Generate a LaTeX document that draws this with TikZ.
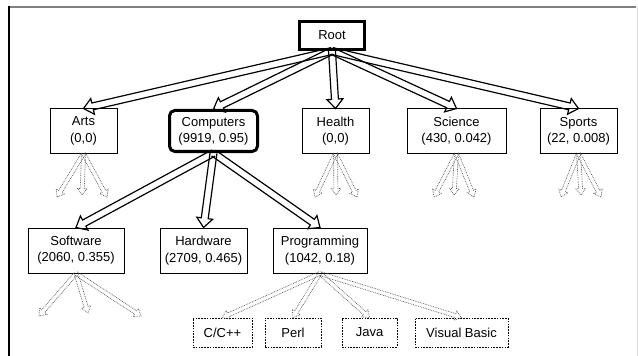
\documentclass[tikz,border=0pt]{standalone}
\usepackage{fontspec}
\setmainfont{Liberation Sans}
\usetikzlibrary{calc}
\newcommand{\lab}{\fontsize{9.75}{12.2}\selectfont}
% hollow arrow: #1 style, #2 start, #3 end, #4 half shaft, #5 half head, #6 head length
\newcommand{\harr}[6]{%
  \coordinate (hb) at ($(#3)!#6!(#2)$);
  \draw[#1] ($(#2)!#4!90:(#3)$) -- ($(hb)!#4!-90:(#2)$) -- ($(hb)!#5!-90:(#2)$)
    -- (#3) -- ($(hb)!#5!90:(#2)$) -- ($(hb)!#4!90:(#2)$) -- ($(#2)!#4!-90:(#3)$);
}
\newcommand{\mainarrow}[2]{\harr{mainarr}{#1}{#2}{2.6pt}{6pt}{7pt}}
\newcommand{\dotarrow}[2]{\harr{dotarr}{#1}{#2}{1.5pt}{3.6pt}{4.8pt}}
\tikzset{
  box/.style={draw, fill=white, line width=0.75pt, align=center, inner sep=0pt, font=\lab},
  bold/.style={box, line width=2.25pt},
  dbox/.style={box, dash pattern=on 1.2pt off 0.9pt, line width=0.7pt},
  mainarr/.style={line width=0.9pt, line join=miter},
  dotarr/.style={line width=0.5pt, dash pattern=on 0.6pt off 0.7pt, color=black!65},
}
\begin{document}
\begin{tikzpicture}[x=0.75pt, y=-0.75pt]
\useasboundingbox (0,0) rectangle (638,356);
% frame
\draw[line width=1.5pt, color=black!50] (8.5,7) -- (636,7);
\draw[line width=1.1pt, black] (9,6.5) -- (9,356);
\draw[line width=0.75pt, black!15] (637,7) -- (637,356);
% nodes
\node[bold, minimum width=48.75pt, minimum height=21pt] (root) at (332,35.5) {Root};
\node[box, minimum width=50.25pt, minimum height=33pt] (arts) at (83.5,131) {Arts\\(0,0)};
\node[bold, rounded corners=4pt, minimum width=66pt, minimum height=30.75pt] (comp) at (213.5,131) {Computers\\(9919, 0.95)};
\node[box, minimum width=50.25pt, minimum height=33pt] (health) at (335.5,131) {Health\\(0,0)};
\node[box, minimum width=74.25pt, minimum height=33pt] (sci) at (456.5,131) {Science\\(430, 0.042)};
\node[box, minimum width=57.75pt, minimum height=33pt] (sports) at (578.5,131) {Sports\\(22, 0.008)};
\node[box, minimum width=72pt, minimum height=33.75pt] (soft) at (76,250.5) {Software\\(2060, 0.355)};
\node[box, minimum width=65.25pt, minimum height=33.75pt] (hard) at (203.5,250.5) {Hardware\\(2709, 0.465)};
\node[box, minimum width=70.5pt, minimum height=33.75pt] (prog) at (320,250.5) {Programming\\(1042, 0.18)};
\node[dbox, minimum width=44.25pt, minimum height=21.75pt] (cpp) at (222.5,332.5) {C/C++};
\node[dbox, minimum width=42pt, minimum height=21.75pt] (perl) at (293,332.5) {Perl};
\node[dbox, minimum width=41.25pt, minimum height=21.75pt] (java) at (369.5,332.5) {Java};
\node[dbox, minimum width=69.75pt, minimum height=21.75pt] (vb) at (461.5,332.5) {Visual Basic};
% free ends of dotted arrows
\coordinate (a1) at (57,197); \coordinate (a2) at (82,195); \coordinate (a3) at (107,197);
\coordinate (h1) at (315,197); \coordinate (h2) at (336,195); \coordinate (h3) at (357,197);
\coordinate (s1) at (434,197); \coordinate (s2) at (454,195); \coordinate (s3) at (474,197);
\coordinate (p1) at (561,197); \coordinate (p2) at (581,195); \coordinate (p3) at (601,197);
\coordinate (w1) at (39,316); \coordinate (w2) at (88,313); \coordinate (w3) at (141,316);
% main arrows
\mainarrow{root.south}{arts.north}
\mainarrow{root.south}{comp.north}
\mainarrow{root.south}{health.north}
\mainarrow{root.south}{sci.north}
\mainarrow{root.south}{sports.north}
\mainarrow{comp.south}{soft.north}
\mainarrow{comp.south}{hard.north}
\mainarrow{comp.south}{prog.north}
% dotted arrows
\foreach \t in {a1,a2,a3} {\dotarrow{arts.south}{\t}}
\foreach \t in {h1,h2,h3} {\dotarrow{health.south}{\t}}
\foreach \t in {s1,s2,s3} {\dotarrow{sci.south}{\t}}
\foreach \t in {p1,p2,p3} {\dotarrow{sports.south}{\t}}
\foreach \t in {w1,w2,w3} {\dotarrow{soft.south}{\t}}
\dotarrow{prog.south}{cpp.north}
\dotarrow{prog.south}{perl.north}
\dotarrow{prog.south}{java.north}
\dotarrow{prog.south}{vb.north}
\end{tikzpicture}
\end{document}
